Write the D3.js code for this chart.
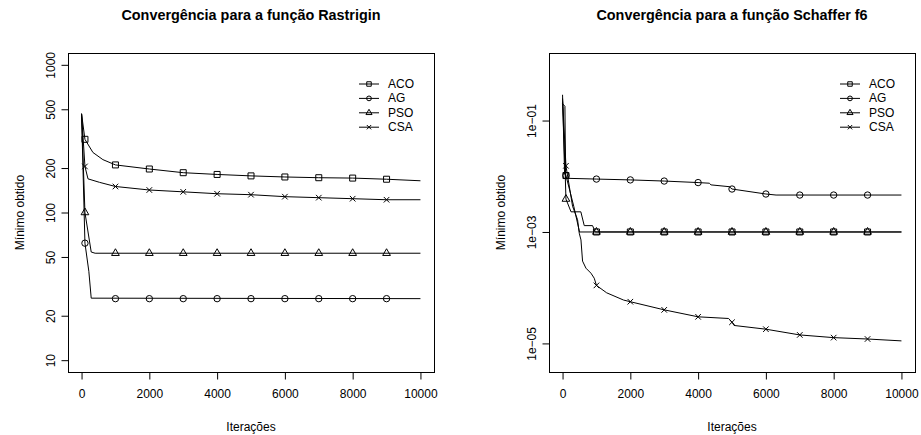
<!DOCTYPE html>
<html>
<head>
<meta charset="utf-8">
<script src="https://cdn.jsdelivr.net/npm/d3@7"></script>
<style>
  body { margin: 0; background: #fff; }
  text { font-family: "Liberation Sans", Arial, Helvetica, sans-serif; fill: #000; }
</style>
</head>
<body>
<div id="chart"></div>
<script>

// ---- data ----
const algorithms = ["ACO", "AG", "PSO", "CSA"];
const xTicks = [0, 2000, 4000, 6000, 8000, 10000];
const markIters = [100, 1000, 2000, 3000, 4000, 5000, 6000, 7000, 8000, 9000];

const rastriginTicks = [10, 20, 50, 100, 200, 500, 1000];
const schafferTicks = [1e-1, 1e-3, 1e-5];
const schafferTickLabels = ["1e\u221201", "1e\u221203", "1e\u221205"];

// Rastrigin: [iteration, best value]
const rastriginACO = [[0, 466], [100, 313], [335, 255], [630, 228], [1000, 210], [2000, 197], [3000, 186],
    [4000, 181], [5000, 177], [6000, 174], [7000, 172], [8000, 171], [9000, 168], [10000, 164]];
const rastriginAG = [[0, 466], [100, 62], [215, 40], [285, 26.3], [10000, 26.1]];
const rastriginPSO = [[0, 466], [100, 100], [285, 54], [400, 53], [10000, 53]];
const rastriginCSA = [[0, 466], [100, 205], [190, 169], [531, 160], [1000, 150], [2000, 142], [3000, 138],
    [4000, 134], [5000, 132], [6000, 128], [7000, 126], [8000, 124], [9000, 122], [10000, 122]];

// marker values at markIters
const rastriginACOMarks = [313, 210, 197, 186, 181, 177, 174, 172, 171, 168];
const rastriginAGMarks = [62, 26.1, 26.1, 26.1, 26.1, 26.1, 26.1, 26.1, 26.1, 26.1];
const rastriginPSOMarks = [100, 53, 53, 53, 53, 53, 53, 53, 53, 53];
const rastriginCSAMarks = [205, 150, 142, 138, 134, 132, 128, 126, 124, 122];

// Schaffer f6: [iteration, best value]
const schafferACO = [[0, 0.29], [60, 0.011], [100, 0.0103], [330, 0.0029], [500, 0.001], [10000, 0.001]];
const schafferAG = [[0, 0.2], [70, 0.18], [90, 0.0092], [1000, 0.0089], [2000, 0.0086], [3000, 0.0082],
    [4000, 0.0077], [4330, 0.0075], [4380, 0.0070], [4920, 0.0065], [5000, 0.0059], [6000, 0.0048],
    [6300, 0.0046], [10000, 0.0046]];
const schafferPSO = [[0, 0.22], [80, 0.01], [100, 0.0039], [250, 0.0023], [540, 0.0023], [640, 0.0013],
    [885, 0.0013], [965, 0.001], [10000, 0.001]];
const schafferCSA = [[0, 0.25], [100, 0.0154], [295, 0.0029], [443, 0.00166], [493, 0.00095], [543, 0.00072],
    [590, 0.0003], [690, 0.000224], [838, 0.000182], [935, 0.000148], [1000, 0.00011], [1300, 0.000081],
    [1800, 0.00006], [2000, 0.000056], [3000, 0.00004], [4000, 0.00003], [4900, 0.000028], [5000, 0.000024],
    [5060, 0.000021], [6000, 0.000018], [7000, 0.0000142], [8000, 0.0000127], [9000, 0.000012],
    [10000, 0.0000111]];

const schafferACOMarks = [0.0103, 0.001, 0.001, 0.001, 0.001, 0.001, 0.001, 0.001, 0.001, 0.001];
const schafferAGMarks = [0.0103, 0.0089, 0.0086, 0.0082, 0.0077, 0.0059, 0.0048, 0.0046, 0.0046, 0.0046];
const schafferPSOMarks = [0.0039, 0.001, 0.001, 0.001, 0.001, 0.001, 0.001, 0.001, 0.001, 0.001];
const schafferCSAMarks = [0.0154, 0.00011, 0.000056, 0.00004, 0.00003, 0.000024, 0.000018, 0.0000142,
    0.0000127, 0.000012];

// ---- drawing ----
const W = 921, H = 435;
const svg = d3.select("#chart").append("svg")
    .attr("width", W)
    .attr("height", H);

const symbolTypes = [d3.symbolSquare, d3.symbolCircle, d3.symbolTriangle, d3.symbolX];
const plotSizes = [36, 32, 26, 22];
const legendSizes = [20, 18, 16, 14];

function drawPanel(p) {
    let g = svg.append("g");
    let box = p.box;

    // R style: data range padded by 4% on each side inside the box
    let xw = (box.right - box.left) / 1.08;
    let x = d3.scaleLinear()
        .domain([0, 10000])
        .range([box.left + xw * 0.04, box.right - xw * 0.04]);

    let yh = (box.bottom - box.top) / 1.08;
    let y = d3.scaleLog()
        .domain(p.yDomain)
        .range([box.bottom - yh * 0.04, box.top + yh * 0.04]);

    // lines
    let line = d3.line()
        .x(d => x(d[0]))
        .y(d => y(d[1]));

    p.series.forEach(s => {
        g.append("path")
            .datum(s)
            .attr("fill", "none")
            .attr("stroke", "#000")
            .attr("stroke-width", 1)
            .attr("stroke-linejoin", "round")
            .attr("d", line);
    });

    // markers
    p.marks.forEach((vals, i) => {
        let sym = d3.symbol().type(symbolTypes[i]).size(plotSizes[i]);
        g.selectAll(null)
            .data(vals.map((v, k) => [markIters[k], v]))
            .enter().append("path")
            .attr("transform", d => "translate(" + x(d[0]) + "," + y(d[1]) + ")")
            .attr("d", sym)
            .attr("fill", "none")
            .attr("stroke", "#000")
            .attr("stroke-width", 1);
    });

    // box
    g.append("rect")
        .attr("x", box.left + 0.5)
        .attr("y", box.top + 0.5)
        .attr("width", box.right - box.left)
        .attr("height", box.bottom - box.top)
        .attr("fill", "none")
        .attr("stroke", "#000")
        .attr("stroke-width", 1);

    // x axis (R style, no domain line)
    let xAxis = d3.axisBottom(x)
        .tickValues(xTicks)
        .tickSize(7)
        .tickPadding(10)
        .tickFormat(d3.format("d"));
    let xg = g.append("g")
        .attr("transform", "translate(0," + (box.bottom + 0.5) + ")")
        .call(xAxis);
    xg.select(".domain").remove();
    xg.selectAll("line").attr("stroke", "#000");
    xg.selectAll("text")
        .style("font-size", "12px")
        .attr("fill", "#000");

    // y axis, labels parallel to the axis
    let yAxis = d3.axisLeft(y)
        .tickValues(p.yTicks)
        .tickSize(7)
        .tickFormat((d, i) => p.yLabels[i]);
    let yg = g.append("g")
        .attr("transform", "translate(" + (box.left + 0.5) + ",0)")
        .call(yAxis);
    yg.select(".domain").remove();
    yg.selectAll("line").attr("stroke", "#000");
    yg.selectAll("text")
        .style("font-size", "12px")
        .attr("fill", "#000")
        .attr("x", null)
        .attr("dy", null)
        .attr("text-anchor", "middle")
        .attr("dominant-baseline", "central")
        .attr("transform", "translate(-18,0) rotate(-90)");

    // title
    g.append("text")
        .attr("x", (box.left + box.right) / 2)
        .attr("y", 20)
        .attr("text-anchor", "middle")
        .style("font-size", "14.4px")
        .style("font-weight", "bold")
        .text(p.title);

    // axis labels
    g.append("text")
        .attr("x", (box.left + box.right) / 2)
        .attr("y", 431)
        .attr("text-anchor", "middle")
        .style("font-size", "12px")
        .text("Iterações");

    g.append("text")
        .attr("transform", "translate(" + (box.left - 48) + "," + ((box.top + box.bottom) / 2) + ") rotate(-90)")
        .attr("text-anchor", "middle")
        .attr("dominant-baseline", "central")
        .style("font-size", "12px")
        .text("Mínimo obtido");

    // legend (no frame), top right of the box
    let lg = g.append("g")
        .attr("transform", "translate(" + (box.right - 75) + "," + (box.top + 31) + ")");
    algorithms.forEach((name, i) => {
        let row = lg.append("g").attr("transform", "translate(0," + (i * 14.4) + ")");
        row.append("line")
            .attr("x1", 0).attr("x2", 20)
            .attr("y1", 0).attr("y2", 0)
            .attr("stroke", "#000");
        row.append("path")
            .attr("transform", "translate(10,0)")
            .attr("d", d3.symbol().type(symbolTypes[i]).size(legendSizes[i]))
            .attr("fill", "none")
            .attr("stroke", "#000");
        row.append("text")
            .attr("x", 29)
            .attr("y", 0)
            .attr("dominant-baseline", "central")
            .style("font-size", "12px")
            .text(name);
    });
}

drawPanel({
    box: {left: 68, right: 434, top: 53, bottom: 372},
    yDomain: [10, 1000],
    yTicks: rastriginTicks,
    yLabels: rastriginTicks.map(String),
    title: "Convergência para a função Rastrigin",
    series: [rastriginACO, rastriginAG, rastriginPSO, rastriginCSA],
    marks: [rastriginACOMarks, rastriginAGMarks, rastriginPSOMarks, rastriginCSAMarks]
});

drawPanel({
    box: {left: 549, right: 915, top: 53, bottom: 372},
    yDomain: [5e-6, 1],
    yTicks: schafferTicks,
    yLabels: schafferTickLabels,
    title: "Convergência para a função Schaffer f6",
    series: [schafferACO, schafferAG, schafferPSO, schafferCSA],
    marks: [schafferACOMarks, schafferAGMarks, schafferPSOMarks, schafferCSAMarks]
});

</script>
</body>
</html>
